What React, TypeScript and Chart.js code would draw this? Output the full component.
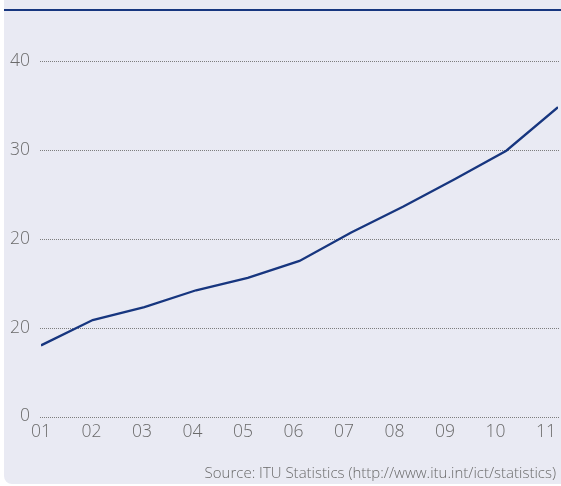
import React, { useEffect, useRef } from "react";
import { Chart, registerables } from "chart.js";

Chart.register(...registerables);

const categories = ["01", "02", "03", "04", "05", "06", "07", "08", "09", "10", "11"];
const seriesValues = [8.0, 10.85, 12.3, 14.2, 15.6, 17.5, 20.7, 23.6, 26.7, 29.9, 34.8];
const yTickValues = [0, 10, 20, 30, 40];
const yTickLabels = ["0", "20", "20", "30", "40"];

const FONT = "'Open Sans', 'Noto Sans', sans-serif";
const NAVY = "#17367f";
const GRAY = "#6a6a6a";
const BG = "#e9eaf3";

export default function App() {
  const ref = useRef<HTMLCanvasElement | null>(null);

  useEffect(() => {
    if (!ref.current) return;
    const chart = new Chart(ref.current, {
      type: "line",
      data: {
        datasets: [
          {
            data: seriesValues.map((v, i) => ({ x: i, y: v })),
            borderColor: NAVY,
            borderWidth: 2.3,
            pointRadius: 0,
            tension: 0,
            xAxisID: "x",
            yAxisID: "y",
          },
        ],
      },
      options: {
        animation: false,
        responsive: false,
        maintainAspectRatio: false,
        layout: { padding: { top: 16.5, right: 3, left: 0, bottom: 0 } },
        plugins: { legend: { display: false }, tooltip: { enabled: false } },
        scales: {
          x: {
            type: "linear",
            min: 0,
            max: categories.length - 1,
            display: false,
          },
          xl: {
            type: "linear",
            position: "bottom",
            min: 0,
            max: (categories.length - 1) * 1.0238,
            afterBuildTicks: (s: any) => {
              s.ticks = categories.map((_, i) => ({ value: i }));
            },
            afterFit: (s: any) => {
              s.height = 67.5;
              s.paddingLeft = 0;
              s.paddingRight = 0;
            },
            border: { display: false },
            grid: { display: false, drawTicks: false },
            ticks: {
              autoSkip: false,
              maxRotation: 0,
              padding: 5,
              color: GRAY,
              font: { family: FONT, size: 17.5, weight: "350" as any },
              callback: (v: any) => categories[Math.round(Number(v))] ?? "",
            },
          },
          y: {
            type: "linear",
            min: 0,
            max: 45,
            afterBuildTicks: (s: any) => {
              s.ticks = yTickValues.map((v) => ({ value: v }));
            },
            afterFit: (s: any) => {
              s.width = 37;
              s.paddingTop = 0;
              s.paddingBottom = 0;
            },
            border: { display: false },
            grid: { display: false, drawTicks: false },
            ticks: {
              padding: 11,
              color: GRAY,
              font: { family: FONT, size: 17.5, weight: "350" as any },
              callback: (v: any) => {
                const idx = yTickValues.indexOf(Number(v));
                return idx >= 0 ? yTickLabels[idx] : "";
              },
            },
          },
        },
      },
      plugins: [
        {
          id: "dottedGrid",
          beforeDatasetsDraw: (c: any) => {
            const y = c.scales.y;
            const ctx = c.ctx;
            const { left, right } = c.chartArea;
            ctx.save();
            ctx.strokeStyle = "#7d7d7d";
            ctx.lineWidth = 1;
            ctx.setLineDash([1, 1]);
            y.ticks.forEach((t: any) => {
              const py = Math.round(y.getPixelForValue(t.value)) + 0.5;
              ctx.beginPath();
              ctx.moveTo(left - 1, py);
              ctx.lineTo(right + 1, py);
              ctx.stroke();
            });
            ctx.restore();
          },
        },
      ],
    });
    return () => chart.destroy();
  }, []);

  return (
    <div style={{ position: "fixed", left: 0, top: 0, width: 561, height: 486, background: "#fff" }}>
      <div
        style={{
          position: "absolute",
          left: 4,
          top: 0,
          width: 557,
          height: 484,
          background: BG,
          borderBottomLeftRadius: 8,
        }}
      />
      <div style={{ position: "absolute", left: 4, top: 9, width: 557, height: 2, background: NAVY }} />
      <canvas ref={ref} width={557} height={484} style={{ position: "absolute", left: 4, top: 0, width: 557, height: 484 }} />
      <div
        style={{
          position: "absolute",
          right: 5,
          top: 462,
          fontFamily: FONT,
          fontSize: 15,
          fontWeight: 350,
          lineHeight: "20px",
          color: GRAY,
          whiteSpace: "nowrap",
        }}
      >
        Source: ITU Statistics (http://www.itu.int/ict/statistics)
      </div>
    </div>
  );
}
